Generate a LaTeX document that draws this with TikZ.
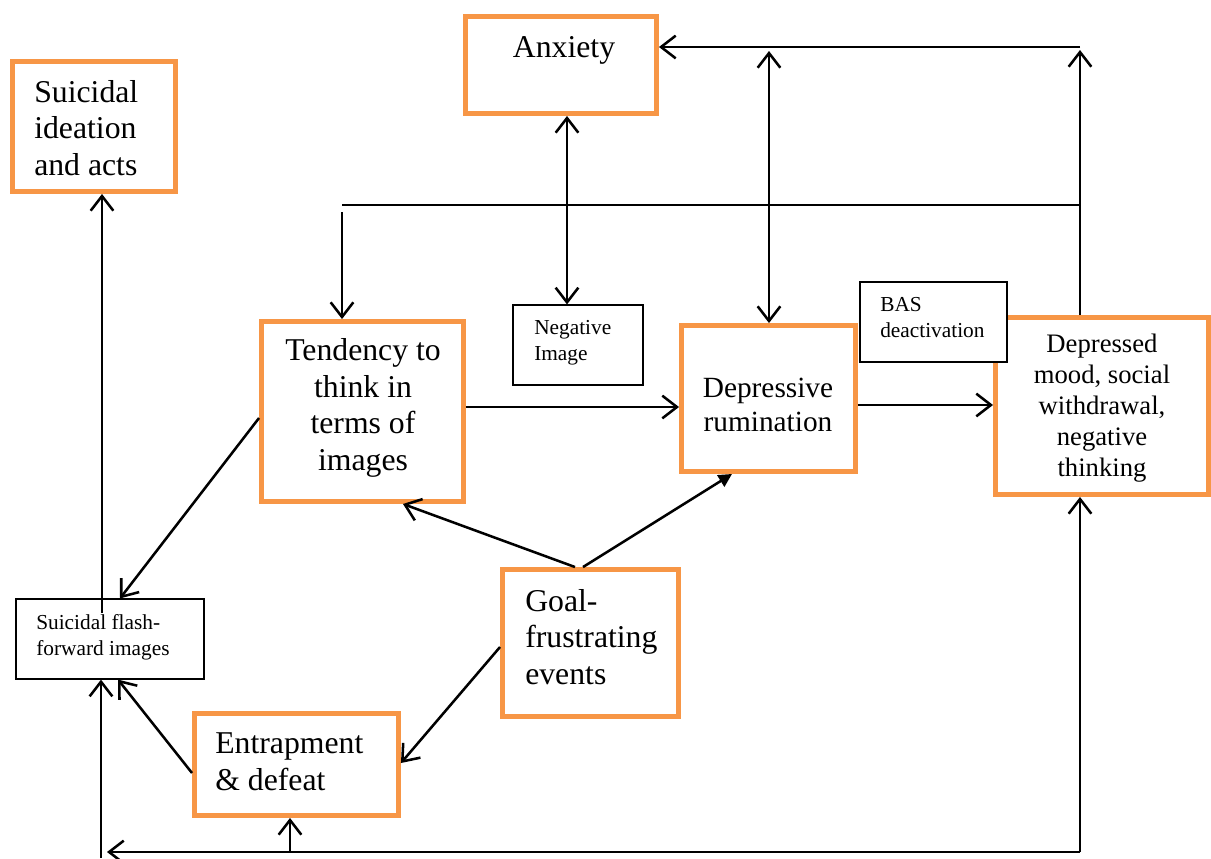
\documentclass[tikz,border=0pt]{standalone}
\usepackage{fontspec}
\setmainfont{Liberation Serif}
\usetikzlibrary{arrows.meta,fit}
\definecolor{boxorange}{RGB}{247,150,70}
\begin{document}
\begin{tikzpicture}[x=0.75pt,y=-0.75pt,
  obox/.style={draw=boxorange,line width=3.7pt,inner sep=0pt,fill=white},
  tbox/.style={draw=black,line width=0.9pt,inner sep=0pt,fill=white},
  link/.style={line width=1.9pt},
  arr/.style={link,-{Straight Barb[length=11pt,width=17pt]}},
  darr/.style={link,{Straight Barb[length=11pt,width=17pt]}-{Straight Barb[length=11pt,width=17pt]}},
  tarr/.style={link,-{Triangle[length=10pt,width=10pt]}},
  bigtext/.style={inner sep=0pt,font=\fontsize{23.8}{27.3}\selectfont},
  midtext/.style={inner sep=0pt,font=\fontsize{22}{25.5}\selectfont},
  moodtext/.style={inner sep=0pt,font=\fontsize{20}{23.2}\selectfont},
  smalltext/.style={inner sep=0pt,font=\fontsize{16}{18.8}\selectfont}
]
\useasboundingbox (0,0) rectangle (1211,858);

% boxes
\node[obox,fit={(465.5,16.5) (656.5,113.5)}] (anx) {};
\node[obox,fit={(12.5,61.5) (175.5,191.5)}] (ideat) {};
\node[obox,fit={(261.5,321.5) (463.5,501.5)}] (tend) {};
\node[obox,fit={(681.5,325.5) (855.5,471.5)}] (rum) {};
\node[obox,fit={(995.5,317.5) (1208.5,494.5)}] (mood) {};
\node[obox,fit={(502.5,569.5) (678.5,716.5)}] (goal) {};
\node[obox,fit={(194.5,713.5) (398.5,815.5)}] (ent) {};
\node[tbox,fit={(513,305) (643,385)}] (neg) {};
\node[tbox,fit={(860,282) (1007,362)}] (bas) {};
\node[tbox,fit={(16,599) (204,679)}] (flash) {};

% texts (anchored on the baseline of their last line)
\node[bigtext,anchor=base] at (564,57) {Anxiety};
\node[bigtext,align=left,anchor=base west] at (34,175) {Suicidal\\ideation\\and acts};
\node[bigtext,align=center,anchor=base] at (363,470) {Tendency to\\think in\\terms of\\images};
\node[smalltext,align=left,anchor=base west] at (534,360) {Negative\\Image};
\node[midtext,align=center,anchor=base] at (768,431) {Depressive\\rumination};
\node[smalltext,align=left,anchor=base west] at (880,337) {BAS\\deactivation};
\node[moodtext,align=center,anchor=base] at (1102,476) {Depressed\\mood, social\\withdrawal,\\negative\\thinking};
\node[bigtext,align=left,anchor=base west] at (525,684) {Goal-\\frustrating\\events};
\node[smalltext,align=left,anchor=base west] at (36,655) {Suicidal flash-\\forward images};
\node[bigtext,align=left,anchor=base west] at (215,790) {Entrapment\\\& defeat};

% helper points of the connector network
\coordinate (topR) at (1080,47);
\coordinate (topRtip) at (1080,50);
\coordinate (midL) at (342,205);
\coordinate (midR) at (1081,205);
\coordinate (midDrop) at (342,212);
\coordinate (ruTop) at (769,51);
\coordinate (negX) at (567,0);
\coordinate (botR) at (1080,852);
\coordinate (botL) at (107,852);
\coordinate (botEdge) at (101,858);
\coordinate (entX) at (290,852);
\coordinate (flashUp) at (102,613);

% connectors
\draw[arr] (topR) -- (topR -| anx.east);
\draw[arr] (mood.north -| topR) -- (topRtip);
\draw[link] (midL) -- (midR);
\draw[arr] (midDrop) -- (midDrop |- tend.north);
\draw[darr] (negX |- anx.south) -- (negX |- neg.north);
\draw[darr] (ruTop) -- (ruTop |- rum.north);
\draw[arr] (tend.east |- 0,407) -- (rum.west |- 0,407);
\draw[arr] (rum.east |- 0,405) -- (mood.west |- 0,405);
\draw[arr] (tend.west |- 0,418) -- (flash.north -| 120,0);
\draw[tarr] (goal.north -| 583,0) -- (rum.south -| 732,0);
\draw[arr] (goal.north -| 575,0) -- (tend.south -| 403,0);
\draw[arr] (goal.west |- 0,647) -- (ent.east |- 0,763);
\draw[arr] (ent.west |- 0,773) -- (flash.south -| 118,0);
\draw[arr] (flashUp) -- (flashUp |- ideat.south);
\draw[arr] (botR) -- (botR |- mood.south);
\draw[arr] (botR) -- (botL);
\draw[arr] (botEdge) -- (botEdge |- flash.south);
\draw[arr] (entX) -- (entX |- ent.south);
\end{tikzpicture}
\end{document}
